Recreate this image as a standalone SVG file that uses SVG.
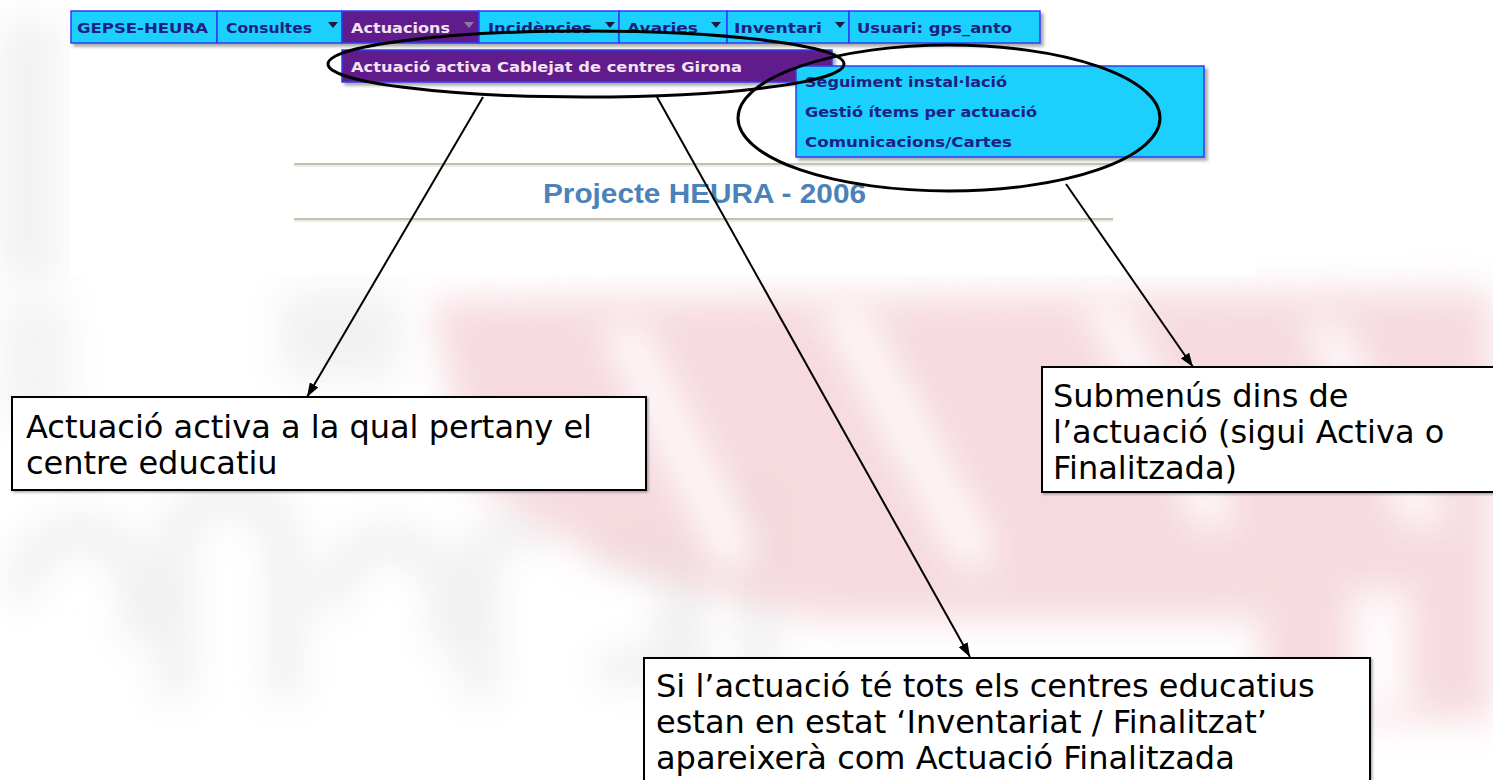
<svg xmlns="http://www.w3.org/2000/svg" width="1493" height="780" viewBox="0 0 1493 780">
<defs>
<filter id="blur" x="-30%" y="-30%" width="160%" height="160%"><feGaussianBlur stdDeviation="18"/></filter>
<filter id="sh" x="-5%" y="-30%" width="110%" height="180%"><feDropShadow dx="3" dy="3" stdDeviation="1.5" flood-color="#666" flood-opacity="0.55"/></filter>
<filter id="bsh" x="-5%" y="-10%" width="110%" height="130%"><feDropShadow dx="1.5" dy="1.5" stdDeviation="0.8" flood-color="#555" flood-opacity="0.5"/></filter>
<marker id="ah" viewBox="0 0 14 10" refX="14" refY="5" markerWidth="14" markerHeight="10" markerUnits="userSpaceOnUse" orient="auto"><path d="M0,0 L14,5 L0,10 z" fill="#000"/></marker>
<style>
.mi{font-family:"DejaVu Sans",Verdana,sans-serif;font-weight:bold;font-size:14px;fill:#1c2181}
.mp{fill:#f3e3f3}
.cell{fill:#1fd0fe;stroke:#2f3cf5;stroke-width:1.5}
.pur{fill:#611f8c;stroke:#2f3cf5;stroke-width:1.5}
.tri{fill:#1a1a40}
.note{fill:#fff;stroke:#000;stroke-width:2}
.nt{font-family:"DejaVu Sans",Verdana,sans-serif;font-size:32px;fill:#000}
.conn{stroke:#000;stroke-width:2;fill:none}
.ell{fill:none;stroke:#000;stroke-width:3}
.wg{fill:none;stroke:#eaeaea;stroke-width:36}
.wp{fill:#f3cdd3}
</style>
</defs>

<g id="background">
<rect width="1493" height="780" fill="#fff"/>
<g filter="url(#blur)" opacity="0.7">
<rect x="0" y="20" width="60" height="260" fill="#ececec"/>
<rect x="0" y="300" width="70" height="120" fill="#efefef"/>
<path class="wg" d="M20,600 a60,70 0 1 1 110,40"/>
<path class="wg" d="M175,700 v-150 a55,55 0 0 1 110,0 v150"/>
<path class="wg" d="M330,610 a60,70 0 1 1 110,40"/>
<path class="wg" d="M480,700 v-150 q30,-30 70,-20"/>
<path class="wg" d="M600,560 a50,60 0 1 1 0,100 M690,540 v160"/>
<path class="wg" d="M760,480 v220"/>
<rect x="280" y="290" width="120" height="90" fill="#ececec"/>
</g>
<g filter="url(#blur)" opacity="0.72">
<polygon class="wp" points="430,300 1493,290 1493,560 1300,560 1250,620 820,620 600,560 470,480"/>
<polygon class="wp" points="1260,560 1493,560 1493,720 1260,720"/>
</g>
<g filter="url(#blur)" opacity="0.9" fill="#fff">
<polygon points="600,330 640,320 760,560 720,570"/>
<polygon points="820,310 860,300 1000,560 960,570"/>
<polygon points="1080,300 1120,300 1240,520 1200,530"/>
<polygon points="1300,320 1340,320 1450,520 1410,530"/>
<rect x="1350" y="590" width="60" height="130"/>
</g>
<rect x="70" y="0" width="1186" height="275" fill="#fff"/>
</g>

<g id="screenshot">
<line x1="294" y1="164" x2="1113" y2="164" stroke="#c3c0ae" stroke-width="2"/>
<line x1="294" y1="166" x2="1113" y2="166" stroke="#e6e4dc" stroke-width="1.5"/>
<line x1="294" y1="219" x2="1113" y2="219" stroke="#c3c0ae" stroke-width="2"/>
<line x1="294" y1="221" x2="1113" y2="221" stroke="#e6e4dc" stroke-width="1.5"/>
<text x="543" y="203" font-family="Liberation Sans, Arial, sans-serif" font-weight="bold" font-size="27" fill="#4a82b9" textLength="323" lengthAdjust="spacingAndGlyphs">Projecte HEURA - 2006</text>
</g>

<g id="menubar" filter="url(#sh)">
<rect class="cell" x="71" y="11" width="146" height="32"/>
<rect class="cell" x="217" y="11" width="125" height="32"/>
<rect class="pur" x="342" y="11" width="137" height="32"/>
<rect class="cell" x="479" y="11" width="140" height="32"/>
<rect class="cell" x="619" y="11" width="108" height="32"/>
<rect class="cell" x="727" y="11" width="122" height="32"/>
<rect class="cell" x="849" y="11" width="191" height="32"/>
</g>
<g id="menutext">
<text class="mi" x="77" y="33" textLength="131" lengthAdjust="spacingAndGlyphs">GEPSE-HEURA</text>
<text class="mi" x="226" y="33" textLength="86" lengthAdjust="spacingAndGlyphs">Consultes</text>
<polygon class="tri" points="328,22 338,22 333,28"/>
<text class="mi mp" x="351" y="33" textLength="99" lengthAdjust="spacingAndGlyphs">Actuacions</text>
<polygon points="464,22 474,22 469,28" fill="#8a7aa8"/>
<text class="mi" x="488" y="33" textLength="104" lengthAdjust="spacingAndGlyphs">Incidències</text>
<polygon class="tri" points="605,22 615,22 610,28"/>
<text class="mi" x="627" y="33" textLength="71" lengthAdjust="spacingAndGlyphs">Avaries</text>
<polygon class="tri" points="711,22 721,22 716,28"/>
<text class="mi" x="734" y="33" textLength="88" lengthAdjust="spacingAndGlyphs">Inventari</text>
<polygon class="tri" points="835,22 845,22 840,28"/>
<text class="mi" x="857" y="33" textLength="155" lengthAdjust="spacingAndGlyphs">Usuari: gps_anto</text>
</g>

<g id="dropdown">
<rect class="pur" x="342" y="50" width="490" height="32" filter="url(#sh)"/>
<text class="mi mp" x="351" y="72" textLength="391" lengthAdjust="spacingAndGlyphs">Actuació activa Cablejat de centres Girona</text>
</g>

<g id="submenu">
<rect class="cell" x="796" y="66" width="408" height="91" filter="url(#sh)"/>
<text class="mi" x="805" y="87" textLength="202" lengthAdjust="spacingAndGlyphs">Seguiment instal·lació</text>
<text class="mi" x="805" y="117" textLength="232" lengthAdjust="spacingAndGlyphs">Gestió ítems per actuació</text>
<text class="mi" x="805" y="147" textLength="207" lengthAdjust="spacingAndGlyphs">Comunicacions/Cartes</text>
</g>

<g id="highlights">
<ellipse class="ell" cx="586" cy="64" rx="258" ry="33"/>
<ellipse class="ell" cx="949" cy="118" rx="211" ry="73"/>
</g>

<g id="connectors">
<line class="conn" x1="483" y1="97" x2="307" y2="397" marker-end="url(#ah)"/>
<line class="conn" x1="657" y1="97" x2="970" y2="657" marker-end="url(#ah)"/>
<line class="conn" x1="1066" y1="184" x2="1193" y2="367" marker-end="url(#ah)"/>
</g>

<g id="note-active">
<rect class="note" x="12" y="397" width="634" height="93" filter="url(#bsh)"/>
<text class="nt" x="26" y="438">Actuació activa a la qual pertany el</text>
<text class="nt" x="26" y="474">centre educatiu</text>
</g>

<g id="note-submenus">
<rect class="note" x="1042" y="367" width="460" height="125" filter="url(#bsh)"/>
<text class="nt" x="1053" y="407">Submenús dins de</text>
<text class="nt" x="1053" y="443">l’actuació (sigui Activa o</text>
<text class="nt" x="1053" y="479">Finalitzada)</text>
</g>

<g id="note-finalitzada">
<rect class="note" x="644" y="658" width="726" height="140" filter="url(#bsh)"/>
<text class="nt" x="656" y="697">Si l’actuació té tots els centres educatius</text>
<text class="nt" x="656" y="733">estan en estat ‘Inventariat / Finalitzat’</text>
<text class="nt" x="656" y="769">apareixerà com Actuació Finalitzada</text>
</g>
</svg>
